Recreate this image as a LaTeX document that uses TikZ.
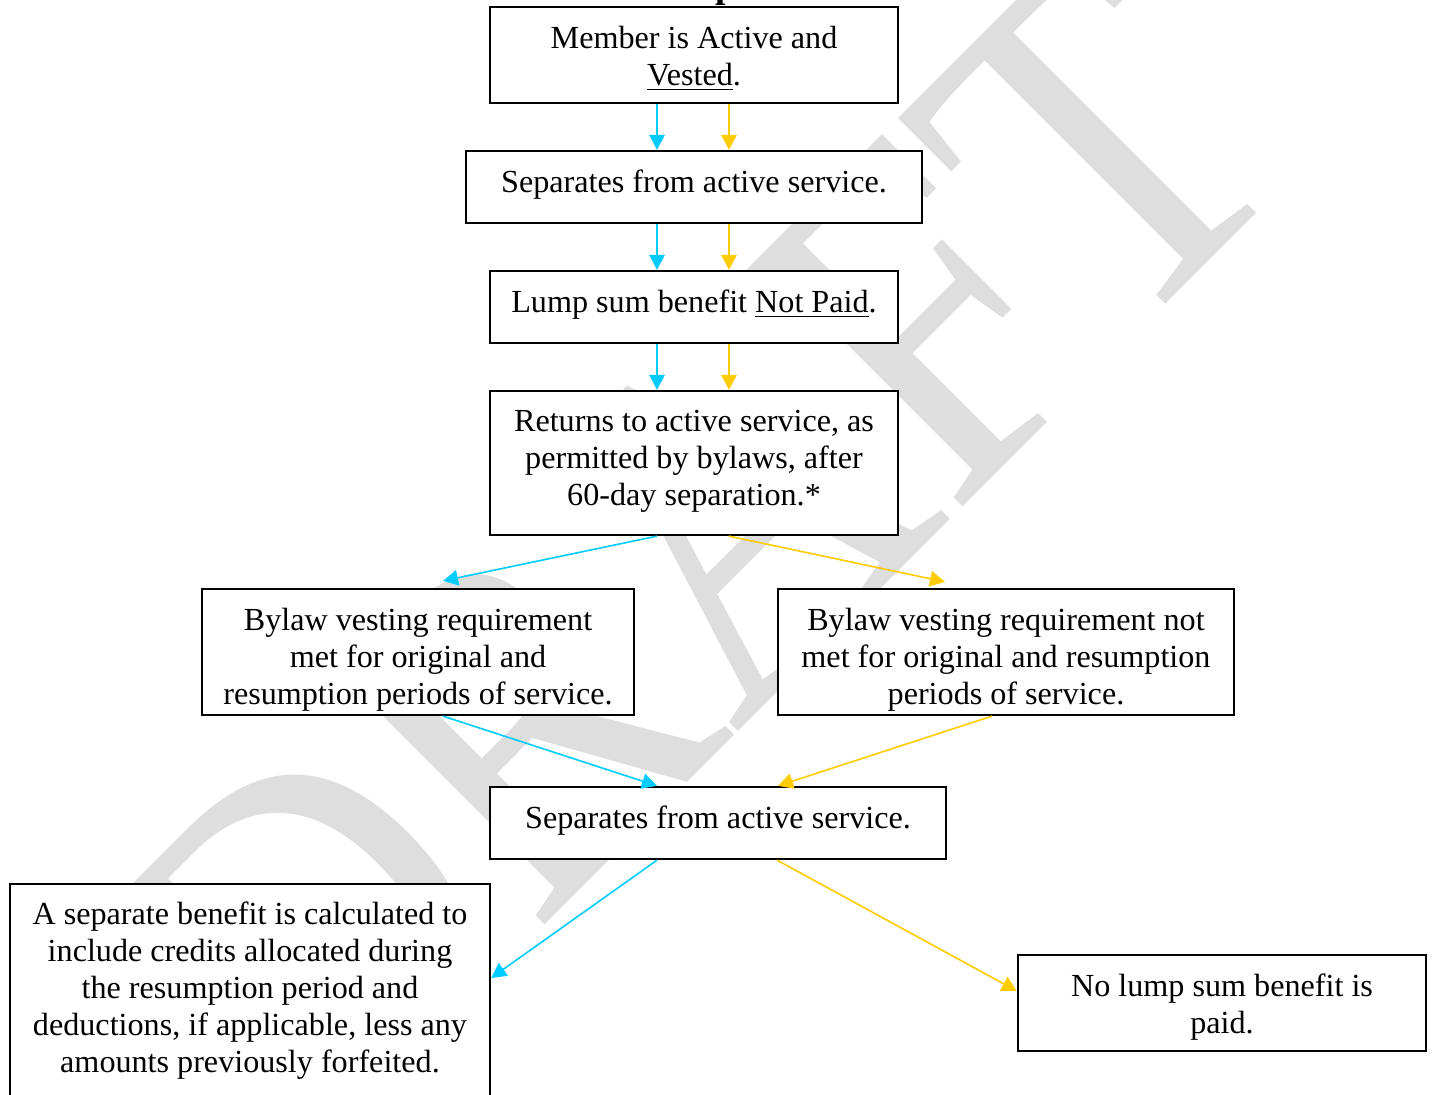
\documentclass[tikz,border=0pt]{standalone}
\usepackage{fontspec}
\setmainfont{Liberation Serif}
\usetikzlibrary{arrows.meta,calc}
\newdimen\pxu
\pxu=0.37313pt
\definecolor{cyanline}{RGB}{0,204,255}
\definecolor{goldline}{RGB}{255,204,0}
\definecolor{wmgray}{RGB}{222,222,222}
\begin{document}
\begin{tikzpicture}[x=\pxu,y=-\pxu,
  box/.style={draw=black, line width=0.85pt, fill=white, inner sep=0pt},
  txt/.style={inner sep=0pt, align=center, font=\fontsize{12}{13.8}\selectfont},
  flow/.style={line width=0.6pt, -{Triangle[length=5.6pt,width=5.8pt]}},
  cy/.style={flow, draw=cyanline, fill=cyanline},
  gd/.style={flow, draw=goldline, fill=goldline}]
\path[use as bounding box, clip] (0,0) rectangle (1433,1095);
\fill[white] (0,0) rectangle (1433,1095);
% watermark
\node[anchor=base west, rotate=45, xscale=0.87, inner sep=0pt, text=wmgray,
  font=\fontsize{182.5}{182.5}\selectfont] (wm) at (317,1153) {DRAFT};
% cropped title fragment
\node[anchor=base west, inner sep=0pt, font=\fontsize{14}{16}\bfseries\selectfont] (ttl) at (715,-2) {p};
% boxes
\node[box, minimum width=408*\pxu, minimum height=96*\pxu] (b1) at (694,55) {};
\node[txt] (t1) at ($(b1)+(0,4)$) {Member is Active and\\ \underline{Vested}.};
\node[box, minimum width=456*\pxu, minimum height=72*\pxu] (b2) at (694,187) {};
\node[txt] (t2) at ($(b2)+(0,-2)$) {Separates from active service.};
\node[box, minimum width=408*\pxu, minimum height=72*\pxu] (b3) at (694,307) {};
\node[txt] (t3) at ($(b3)+(0,-2)$) {Lump sum benefit \underline{Not Paid}.};
\node[box, minimum width=408*\pxu, minimum height=144*\pxu] (b4) at (694,463) {};
\node[txt] (t4) at ($(b4)+(0,-2)$) {Returns to active service, as\\ permitted by bylaws, after\\ 60-day separation.*};
\node[box, minimum width=432*\pxu, minimum height=126*\pxu] (b5) at (418,652) {};
\node[txt] (t5) at ($(b5)+(0,8)$) {Bylaw vesting requirement\\ met for original and\\ resumption periods of service.};
\node[box, minimum width=456*\pxu, minimum height=126*\pxu] (b6) at (1006,652) {};
\node[txt] (t6) at ($(b6)+(0,8)$) {Bylaw vesting requirement not\\ met for original and resumption\\ periods of service.};
\node[box, minimum width=456*\pxu, minimum height=72*\pxu] (b7) at (718,823) {};
\node[txt] (t7) at ($(b7)+(0,-2)$) {Separates from active service.};
\node[box, minimum width=480*\pxu, minimum height=240*\pxu, anchor=north] (b8) at (250,883) {};
\node[txt] (t8) at (250,991)
  {A separate benefit is calculated to\\ include credits allocated during\\ the resumption period and\\ deductions, if applicable, less any\\ amounts previously forfeited.};
\node[box, minimum width=408*\pxu, minimum height=96*\pxu] (b9) at (1222,1003) {};
\node[txt] (t9) at ($(b9)+(0,4)$) {No lump sum benefit is\\ paid.};
% connectors
\draw[cy] ($(b1.south)+(-37,0)$) -- ($(b2.north)+(-37,0)$);
\draw[gd] ($(b1.south)+(35,0)$) -- ($(b2.north)+(35,0)$);
\draw[cy] ($(b2.south)+(-37,0)$) -- ($(b3.north)+(-37,0)$);
\draw[gd] ($(b2.south)+(35,0)$) -- ($(b3.north)+(35,0)$);
\draw[cy] ($(b3.south)+(-37,0)$) -- ($(b4.north)+(-37,0)$);
\draw[gd] ($(b3.south)+(35,0)$) -- ($(b4.north)+(35,0)$);
\draw[cy] ($(b4.south)+(-37,0)$) -- ($(b5.north)+(25,-7)$);
\draw[gd] ($(b4.south)+(35,0)$) -- ($(b6.north)+(-61,-6)$);
\draw[cy] ($(b5.south)+(25,0)$) -- ($(b7.north)+(-61,0)$);
\draw[gd] ($(b6.south)+(-14,0)$) -- ($(b7.north)+(60,0)$);
\draw[cy] ($(b7.south)+(-61,0)$) -- ($(b8.north east)+(0,95)$);
\draw[gd] ($(b7.south)+(59,0)$) -- ($(b9.west)+(0,-12)$);
\end{tikzpicture}
\end{document}
